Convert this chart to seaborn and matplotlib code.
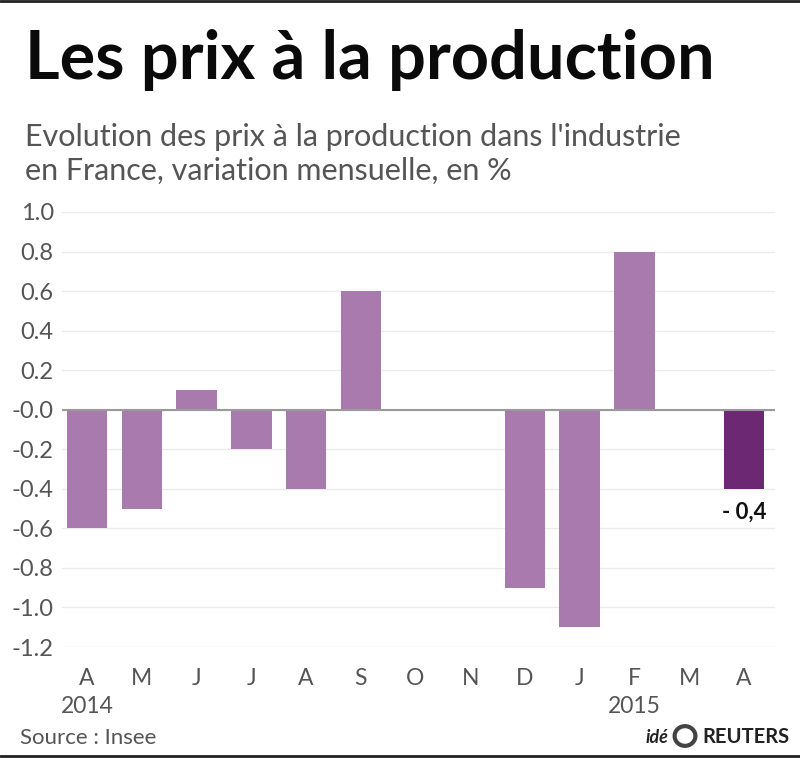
import numpy as np
import pandas as pd
import matplotlib
matplotlib.use('Agg')
import matplotlib.pyplot as plt
import seaborn as sns

# Monthly change in French producer prices, %
periods = ['2014-04', '2014-05', '2014-06', '2014-07', '2014-08', '2014-09',
           '2014-10', '2014-11', '2014-12', '2015-01', '2015-02', '2015-03', '2015-04']
month_labels = ['A\n2014', 'M', 'J', 'J', 'A', 'S', 'O', 'N', 'D', 'J', 'F\n2015', 'M', 'A']
values = [-0.6, -0.5, 0.1, -0.2, -0.4, 0.6, 0.0, 0.0, -0.9, -1.1, 0.8, 0.0, -0.4]
y_ticks = [1.0, 0.8, 0.6, 0.4, 0.2, 0.0, -0.2, -0.4, -0.6, -0.8, -1.0, -1.2]
y_tick_labels = ['1.0', '0.8', '0.6', '0.4', '0.2', '-0.0', '-0.2', '-0.4',
                 '-0.6', '-0.8', '-1.0', '-1.2']
last_label = '- 0,4'

LIGHT = '#a97aae'
DARK = '#6d2874'
GREY = '#555555'

sns.set_style('white')
plt.rcParams['font.family'] = ['Lato', 'DejaVu Sans']

df = pd.DataFrame({'period': periods, 'value': values})
palette = {p: (DARK if i == len(periods) - 1 else LIGHT) for i, p in enumerate(periods)}

fig = plt.figure(figsize=(8, 7.58), dpi=100)
ax = fig.add_axes([62 / 800, (758 - 647) / 758, (775 - 62) / 800, (647 - 212) / 758])

sns.barplot(data=df, x='period', y='value', hue='period', palette=palette,
            legend=False, width=0.74, saturation=1, linewidth=0, ax=ax, zorder=3)

ax.set_xlim(-0.46, 12.57)
ax.set_ylim(-1.2, 1.0)
ax.set_yticks(y_ticks)
ax.set_yticklabels(y_tick_labels)
ax.set_xticks(range(len(periods)))
ax.set_xticklabels(month_labels, linespacing=1.45, va='top')
ax.tick_params(axis='y', labelsize=17, colors=GREY, length=0, pad=6)
ax.tick_params(axis='x', labelsize=16.5, colors=GREY, length=0, pad=15)
ax.set_xlabel('')
ax.set_ylabel('')
for s in ax.spines.values():
    s.set_visible(False)
ax.grid(axis='y', color='#ebebeb', lw=1, zorder=0)
ax.axhline(0, color='#9a9a9a', lw=1.5, zorder=4)

ax.annotate(last_label, (12, values[-1]), xytext=(0, -9), textcoords='offset points',
            ha='center', va='top', fontsize=16, fontweight='bold', color='#111111')

fig.text(25 / 800, 1 - 79 / 758, 'Les prix à la production', fontsize=48,
         fontweight='bold', color='#0a0a0a', ha='left', va='baseline')
fig.text(25 / 800, 1 - 146 / 758, "Evolution des prix à la production dans l'industrie",
         fontsize=22, color=GREY, ha='left', va='baseline')
fig.text(25 / 800, 1 - 180 / 758, 'en France, variation mensuelle, en %',
         fontsize=22, color=GREY, ha='left', va='baseline')

fig.text(20 / 800, 1 - 744 / 758, 'Source : Insee', fontsize=16, color=GREY,
         ha='left', va='baseline')
fig.text(668 / 800, 1 - 743 / 758, 'idé', fontsize=13, fontweight='bold',
         style='italic', color='#222222', ha='right', va='baseline')
fig.patches.append(matplotlib.patches.Circle((685 / 800, 1 - 736 / 758), 0.013,
                   transform=fig.transFigure, facecolor='none', edgecolor='#444444',
                   lw=3))
fig.text(702 / 800, 1 - 743 / 758, 'REUTERS', fontsize=14.5, fontweight='bold',
         color='#222222', ha='left', va='baseline')

fig.add_artist(plt.Line2D([0, 1], [1 - 1 / 758, 1 - 1 / 758], color='#222222', lw=2,
                          transform=fig.transFigure))
fig.add_artist(plt.Line2D([0, 1], [2 / 758, 2 / 758], color='#222222', lw=2,
                          transform=fig.transFigure))

fig.savefig('out.png', dpi=100)
